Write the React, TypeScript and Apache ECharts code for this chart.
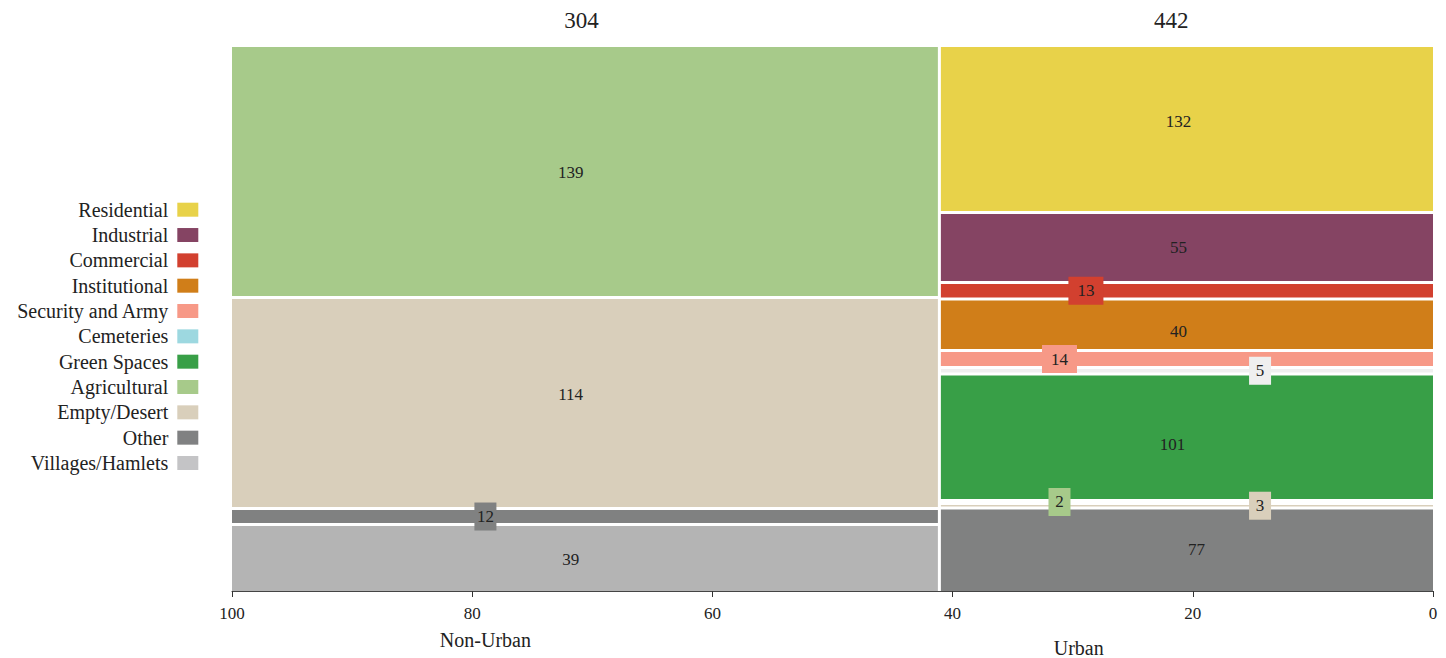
import React, { useEffect, useRef } from "react";
import * as echarts from "echarts";

const FONT = "Liberation Serif";

// ---------- data ----------
const categories = [
  "Residential",
  "Industrial",
  "Commercial",
  "Institutional",
  "Security and Army",
  "Cemeteries",
  "Green Spaces",
  "Agricultural",
  "Empty/Desert",
  "Other",
  "Villages/Hamlets",
];
const legendColors = [
  "#e8d249", "#854463", "#d2402f", "#d07e19", "#f79987", "#9dd8e0",
  "#389f47", "#a7ca8a", "#d9cfbb", "#808182", "#c4c4c6",
];
const fillColors = [
  "#e8d249", "#854463", "#d2402f", "#d07e19", "#f79987", "#efefef",
  "#389f47", "#a7ca8a", "#d9cfbb", "#808181", "#b4b4b4",
];

const columns = ["Non-Urban", "Urban"];
const columnTotals = [304, 442];
const columnWidthShare = [58.9, 41.1];

const nonUrbanCounts = [null, null, null, null, null, null, null, 139, 114, 12, 39];
const urbanCounts = [132, 55, 13, 40, 14, 5, 101, 2, 3, 77, null];
const nonUrbanHeightShare = [0, 0, 0, 0, 0, 0, 0, 46.05, 38.79, 2.94, 12.22];
const urbanHeightShare = [30.42, 12.87, 3.03, 9.47, 3.13, 1.19, 23.25, 0.55, 0.83, 15.26, 0];

// label placement (x in axis units, y as fraction of segment)
const nonUrbanLabelX = [0, 0, 0, 0, 0, 0, 0, 71.8, 71.8, 78.9, 71.8];
const urbanLabelX = [21.2, 21.2, 28.9, 21.2, 31.1, 14.4, 21.7, 31.1, 14.4, 19.7, 0];
const nonUrbanLabelYFrac = [0.5, 0.5, 0.5, 0.5, 0.5, 0.5, 0.5, 0.5, 0.46, 0.5, 0.52];
const urbanLabelYFrac = [0.45, 0.5, 0.5, 0.64, 0.5, 0.5, 0.56, 0.5, 0.5, 0.5, 0.5];
const nonUrbanBoxW = [0, 0, 0, 0, 0, 0, 0, 0, 0, 22, 0];
const urbanBoxW = [0, 0, 35, 0, 35, 22, 0, 22, 22, 0, 0];
const columnTotalLabelX = [70.9, 21.8];
const columnNameX = [78.9, 29.5];
const columnNameDy = [49, 57];

const counts = [nonUrbanCounts, urbanCounts];
const heights = [nonUrbanHeightShare, urbanHeightShare];
const labelXs = [nonUrbanLabelX, urbanLabelX];
const labelYFracs = [nonUrbanLabelYFrac, urbanLabelYFrac];
const boxWs = [nonUrbanBoxW, urbanBoxW];

const sum = (a: number[]) => a.reduce((s, v) => s + v, 0);

export default function App() {
  const ref = useRef<HTMLDivElement>(null);
  useEffect(() => {
    if (!ref.current) return;
    const chart = echarts.init(ref.current, null, { renderer: "svg" });

    const segs: any[] = [];
    columns.forEach((_, k) => {
      const xLeft = 100 - sum(columnWidthShare.slice(0, k));
      const xRight = xLeft - columnWidthShare[k];
      const colSum = sum(heights[k]);
      categories.forEach((__, ci) => {
        const share = heights[k][ci];
        if (!share) return;
        const yTop = (sum(heights[k].slice(0, ci)) / colSum) * 100;
        const yBot = yTop + (share / colSum) * 100;
        segs.push({ k, ci, xLeft, xRight, yTop, yBot });
      });
    });

    const rectRender = (params: any, api: any) => {
      const xl = api.value(0), xr = api.value(1), yt = api.value(2), yb = api.value(3);
      const ci = api.value(4);
      const a = api.coord([xl, yt]);
      const b = api.coord([xr, yb]);
      const g = 1.5;
      const x0 = a[0] + (xl >= 99.999 ? 0 : g);
      const x1 = b[0] - (xr <= 0.001 ? 0 : g);
      const y0 = a[1] + (yt <= 0.001 ? 0 : g);
      const y1 = b[1] - (yb >= 99.999 ? 0 : g);
      return {
        type: "rect",
        shape: { x: x0, y: y0, width: Math.max(0, x1 - x0), height: Math.max(0, y1 - y0) },
        style: { fill: fillColors[ci], stroke: null, lineWidth: 0 },
      };
    };

    const series: any[] = categories.map((name, ci) => ({
      type: "custom",
      name,
      itemStyle: { color: legendColors[ci] },
      renderItem: rectRender,
      encode: { x: [0, 1], y: [2, 3] },
      data: segs
        .filter((s) => s.ci === ci)
        .map((s) => [s.xLeft, s.xRight, s.yTop, s.yBot, ci]),
      z: 2,
    }));

    series.push({
      type: "custom",
      name: "labels",
      z: 5,
      renderItem: (params: any, api: any) => {
        const x = api.value(0), y = api.value(1), cnt = api.value(2), ci = api.value(3), bw = api.value(4);
        const p = api.coord([x, y]);
        const children: any[] = [];
        if (bw > 0) {
          children.push({
            type: "rect",
            shape: { x: p[0] - bw / 2, y: p[1] - 14, width: bw, height: 28 },
            style: { fill: fillColors[ci] },
          });
        }
        children.push({
          type: "text",
          style: {
            text: String(cnt),
            x: p[0],
            y: p[1],
            align: "center",
            verticalAlign: "middle",
            fontFamily: FONT,
            fontSize: 17,
            fill: "#222",
          },
        });
        return { type: "group", children };
      },
      encode: { x: 0, y: 1 },
      data: segs.map((s) => [
        labelXs[s.k][s.ci],
        s.yTop + labelYFracs[s.k][s.ci] * (s.yBot - s.yTop),
        counts[s.k][s.ci],
        s.ci,
        boxWs[s.k][s.ci],
      ]),
    });

    series.push({
      type: "custom",
      name: "columns",
      z: 5,
      renderItem: (params: any, api: any) => {
        const k = api.value(3);
        const t = api.coord([api.value(0), 0]);
        const n = api.coord([api.value(1), 100]);
        return {
          type: "group",
          children: [
            {
              type: "text",
              style: {
                text: String(api.value(2)),
                x: t[0],
                y: t[1] - 27,
                align: "center",
                verticalAlign: "middle",
                fontFamily: FONT,
                fontSize: 23,
                fill: "#222",
              },
            },
            {
              type: "text",
              style: {
                text: columns[k],
                x: n[0],
                y: n[1] + columnNameDy[k],
                align: "center",
                verticalAlign: "middle",
                fontFamily: FONT,
                fontSize: 20,
                fill: "#222",
              },
            },
          ],
        };
      },
      encode: { x: [0, 1], y: 4 },
      data: columns.map((_, k) => [columnTotalLabelX[k], columnNameX[k], columnTotals[k], k, 50]),
    });

    chart.setOption({
      animation: false,
      textStyle: { fontFamily: FONT },
      grid: { left: 232, right: 13, top: 47, bottom: 67 },
      xAxis: {
        type: "value",
        position: "bottom",
        min: 0,
        max: 100,
        interval: 20,
        inverse: true,
        z: 10,
        splitLine: { show: false },
        axisLine: { show: true, onZero: false, lineStyle: { color: "#444", width: 1 } },
        axisTick: { show: true, length: 6, lineStyle: { color: "#333" } },
        axisLabel: { fontFamily: FONT, fontSize: 17, color: "#222", margin: 14 },
      },
      yAxis: { type: "value", min: 0, max: 100, inverse: true, show: false },
      legend: {
        orient: "vertical",
        right: 1247.7,
        top: 199.7,
        padding: 0,
        align: "right",
        icon: "rect",
        itemWidth: 21,
        itemHeight: 14,
        itemGap: 5.33,
        selectedMode: false,
        data: categories,
        textStyle: { fontFamily: FONT, fontSize: 20, color: "#222", lineHeight: 20, padding: [0, 4, 0, 0] },
      },
      series,
    });
    return () => chart.dispose();
  }, []);
  return (
    <div
      ref={ref}
      style={{ position: "fixed", left: 0, top: 0, width: 1446, height: 658, background: "#fff" }}
    />
  );
}
